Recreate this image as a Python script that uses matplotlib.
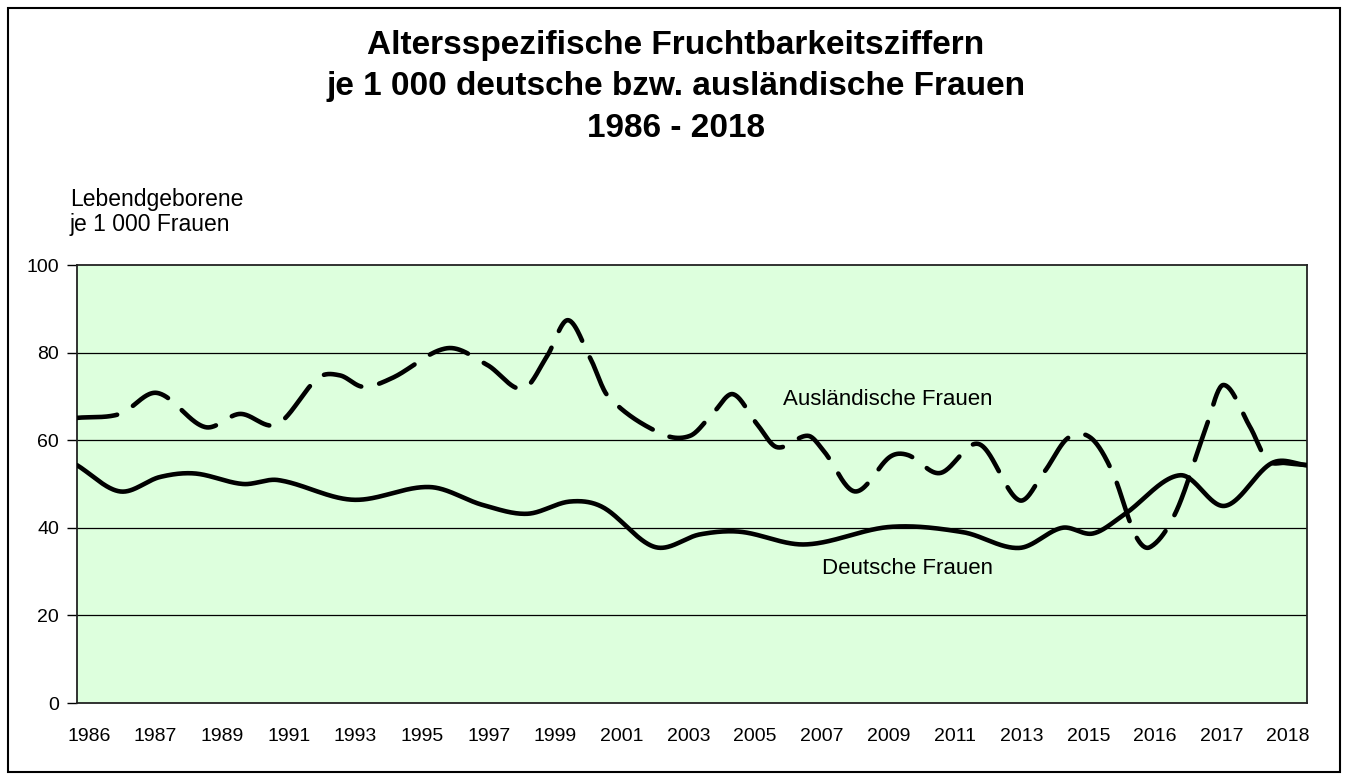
import numpy as np
import matplotlib
matplotlib.use("Agg")
import matplotlib.pyplot as plt
from matplotlib.patches import Rectangle

plt.rcParams['font.family'] = ['Liberation Sans', 'DejaVu Sans']

deutsche_x = [1986.00, 1987.12, 1988.16, 1989.07, 1990.32, 1991.23, 1993.18, 1995.18,
              1996.56, 1997.71, 1998.83, 1999.68, 2001.04, 2002.21, 2003.25, 2004.94,
              2007.15, 2009.05, 2010.51, 2011.63, 2012.43, 2013.24, 2014.70, 2015.86,
              2017.09, 2018.00]
deutsche_y = [54.3, 48.3, 51.6, 52.4, 50.0, 50.9, 46.4, 49.3,
              45.2, 43.2, 46.0, 44.7, 35.6, 38.5, 39.1, 36.2,
              40.2, 39.0, 35.4, 40.0, 38.7, 43.0, 52.0, 45.0,
              54.8, 54.3]

auslaender_x = [1986.00, 1987.12, 1988.08, 1989.33, 1990.24, 1991.20, 1992.27, 1992.84,
                1993.44, 1994.20, 1995.63, 1996.67, 1997.60, 1998.23, 1998.77, 1999.35,
                1999.81, 2001.17, 2001.95, 2002.55, 2003.07, 2003.69, 2004.21, 2005.02,
                2005.43, 2006.24, 2007.15, 2007.62, 2008.45, 2009.47, 2010.51, 2011.16,
                2011.78, 2012.38, 2012.95, 2013.53, 2013.92, 2014.59, 2015.35, 2015.82,
                2016.52, 2016.96, 2017.43, 2018.00]
auslaender_y = [65.1, 66.0, 70.8, 63.0, 66.0, 63.6, 74.2, 74.8,
                72.2, 74.2, 81.0, 77.2, 71.7, 79.2, 87.4, 78.8,
                70.1, 61.6, 61.0, 66.2, 70.5, 63.7, 58.4, 61.0,
                57.5, 48.3, 56.2, 56.6, 52.5, 59.1, 46.3, 52.7,
                60.5, 60.5, 52.5, 38.4, 35.6, 43.6, 62.3, 72.6,
                63.0, 55.5, 54.8, 54.3]

tick_labels = ['1986', '1987', '1989', '1991', '1993', '1995', '1997', '1999', '2001',
               '2003', '2005', '2007', '2009', '2011', '2013', '2015', '2016', '2017', '2018']


def smooth(x, y, n=1500):
    """geglättete Linie wie in Excel (kubische Hermite-Kurve)"""
    x = np.asarray(x, float)
    y = np.asarray(y, float)
    m = np.empty_like(y)
    m[1:-1] = (y[2:] - y[:-2]) / (x[2:] - x[:-2])
    m[0] = (y[1] - y[0]) / (x[1] - x[0])
    m[-1] = (y[-1] - y[-2]) / (x[-1] - x[-2])
    xs = np.linspace(x[0], x[-1], n)
    i = np.clip(np.searchsorted(x, xs, side='right') - 1, 0, len(x) - 2)
    h = x[i + 1] - x[i]
    t = (xs - x[i]) / h
    ys = ((2 * t**3 - 3 * t**2 + 1) * y[i] + (t**3 - 2 * t**2 + t) * h * m[i]
          + (-2 * t**3 + 3 * t**2) * y[i + 1] + (t**3 - t**2) * h * m[i + 1])
    return xs, ys


fig = plt.figure(figsize=(13.52, 7.79), dpi=100)
ax = fig.add_axes([77 / 1352, 1 - 703 / 779, 1230 / 1352, 438 / 779])
ax.set_facecolor('#ddffdd')

# Gitterlinien
for v in [20, 40, 60, 80]:
    ax.axhline(v, color='black', lw=0.9, zorder=1)

xs, ys = smooth(auslaender_x, auslaender_y)
line, = ax.plot(xs, ys, color='black', lw=3.3, zorder=3,
                dash_capstyle='round', solid_capstyle='round')
line.set_dashes((8.8, 4.0))
xs, ys = smooth(deutsche_x, deutsche_y)
ax.plot(xs, ys, color='black', lw=3.3, zorder=3, solid_capstyle='round')

ax.set_xlim(1986, 2018)
ax.set_ylim(0, 100)
ax.set_yticks([0, 20, 40, 60, 80, 100])
ax.set_xticks(np.linspace(1986.31, 2017.51, len(tick_labels)))
ax.set_xticklabels(tick_labels)
ax.tick_params(axis='x', length=0, pad=18, labelsize=14)
ax.tick_params(axis='y', length=7, width=1, pad=6, labelsize=14, direction='out')
for s in ax.spines.values():
    s.set_linewidth(1.3)
    s.set_color('#222222')

ax.text(2007.1, 69.2, 'Ausländische Frauen', ha='center', va='center', fontsize=16)
ax.text(2007.6, 30.8, 'Deutsche Frauen', ha='center', va='center', fontsize=16)

fig.text(0.5, 1 - 87 / 779,
         'Altersspezifische Fruchtbarkeitsziffern\nje 1 000 deutsche bzw. ausländische Frauen\n1986 - 2018',
         ha='center', va='center', fontsize=24, fontweight='bold', linespacing=1.42)
fig.text(70 / 1352, 1 - 212 / 779, 'Lebendgeborene\nje 1 000 Frauen',
         ha='left', va='center', fontsize=16.5, linespacing=1.1)

# Rahmen um die ganze Grafik
fig.patches.append(Rectangle((8 / 1352, 1 - 772 / 779), 1332 / 1352, 764 / 779,
                             transform=fig.transFigure, fill=False,
                             edgecolor='black', lw=1.5))

fig.savefig('out.png', dpi=100, facecolor='white')
